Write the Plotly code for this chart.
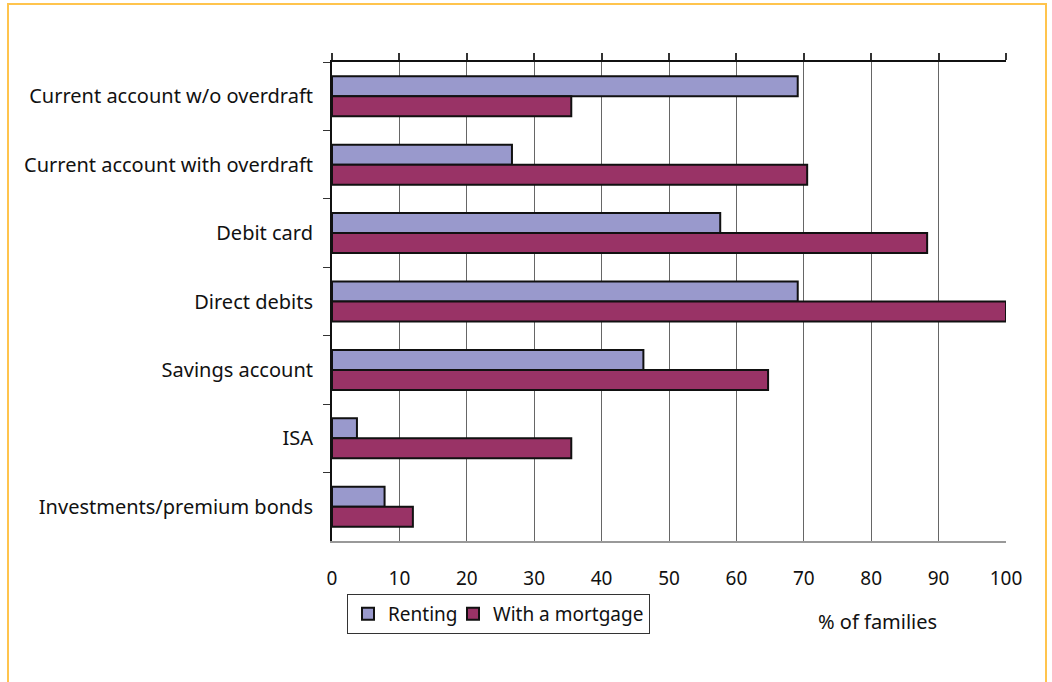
import plotly.graph_objects as go

# Share of families holding each financial product, by housing tenure
categories = [
    "Current account w/o overdraft",
    "Current account with overdraft",
    "Debit card",
    "Direct debits",
    "Savings account",
    "ISA",
    "Investments/premium bonds",
]
renting = [69.1, 26.7, 57.6, 69.1, 46.2, 3.7, 7.8]
mortgage = [35.5, 70.5, 88.3, 100.0, 64.7, 35.5, 12.0]
x_ticks = [0, 10, 20, 30, 40, 50, 60, 70, 80, 90, 100]

FONT = "Noto Sans"
W, H = 1052, 682
L, R, T, B = 332, 46, 62, 141
pw, ph = W - L - R, H - T - B


def px(x):
    return (x - L) / pw


def py(y):
    return (H - B - y) / ph


fig = go.Figure()
fig.add_trace(go.Bar(
    y=categories, x=renting, name="Renting", orientation="h",
    marker=dict(color="#9999CC", line=dict(color="#111111", width=2)),
    legendwidth=60,
))
fig.add_trace(go.Bar(
    y=categories, x=mortgage, name="With a mortgage", orientation="h",
    marker=dict(color="#993366", line=dict(color="#111111", width=2)),
))
# carrier for the top axis line and its ticks
fig.add_trace(go.Scatter(
    x=[0, 100], y=[categories[0], categories[0]], xaxis="x2",
    mode="none", showlegend=False, hoverinfo="skip",
))

fig.update_layout(
    width=W, height=H,
    margin=dict(l=L, r=R, t=T, b=B, pad=0),
    paper_bgcolor="white", plot_bgcolor="white",
    font=dict(family=FONT, size=19, color="#111111"),
    barmode="group", bargap=0.415, bargroupgap=0,
    xaxis=dict(
        range=[0, 100], tickvals=x_ticks, ticktext=[str(v) for v in x_ticks],
        showgrid=True, gridcolor="#666666", gridwidth=1,
        showline=True, linecolor="#999999", linewidth=2,
        ticks="", ticklabelstandoff=19, zeroline=False,
        tickfont=dict(family=FONT, size=19, color="#111111"),
    ),
    xaxis2=dict(
        range=[0, 100], tickvals=x_ticks, overlaying="x", side="top",
        matches="x", anchor="y", showgrid=False, showticklabels=False,
        showline=True, linecolor="#111111", linewidth=2,
        ticks="outside", ticklen=7, tickwidth=2, tickcolor="#333333",
        zeroline=False,
    ),
    yaxis=dict(
        categoryorder="array", categoryarray=categories, autorange="reversed",
        showline=True, linecolor="#111111", linewidth=2,
        ticks="outside", tickson="boundaries", ticklen=7, tickwidth=1,
        tickcolor="#333333", ticklabelstandoff=13, showgrid=False,
        tickfont=dict(family=FONT, size=20, color="#111111"),
    ),
    legend=dict(
        orientation="h", x=px(347), y=py(594), xanchor="left", yanchor="top",
        bgcolor="white", bordercolor="#333333", borderwidth=1,
        font=dict(family=FONT, size=19, color="#111111"),
        traceorder="normal", itemwidth=30,
    ),
    annotations=[dict(
        text="% of families", xref="paper", yref="paper",
        x=px(877), y=py(621), xanchor="center", yanchor="middle",
        showarrow=False,
        font=dict(family=FONT, size=20, color="#111111"),
    )],
    shapes=[dict(
        type="rect", xref="paper", yref="paper",
        x0=px(8), x1=px(1046), y0=py(700), y1=py(4),
        line=dict(color="#FFC44D", width=2), fillcolor="rgba(0,0,0,0)",
        layer="below",
    )],
    showlegend=True,
)

fig.write_html("out.html")
